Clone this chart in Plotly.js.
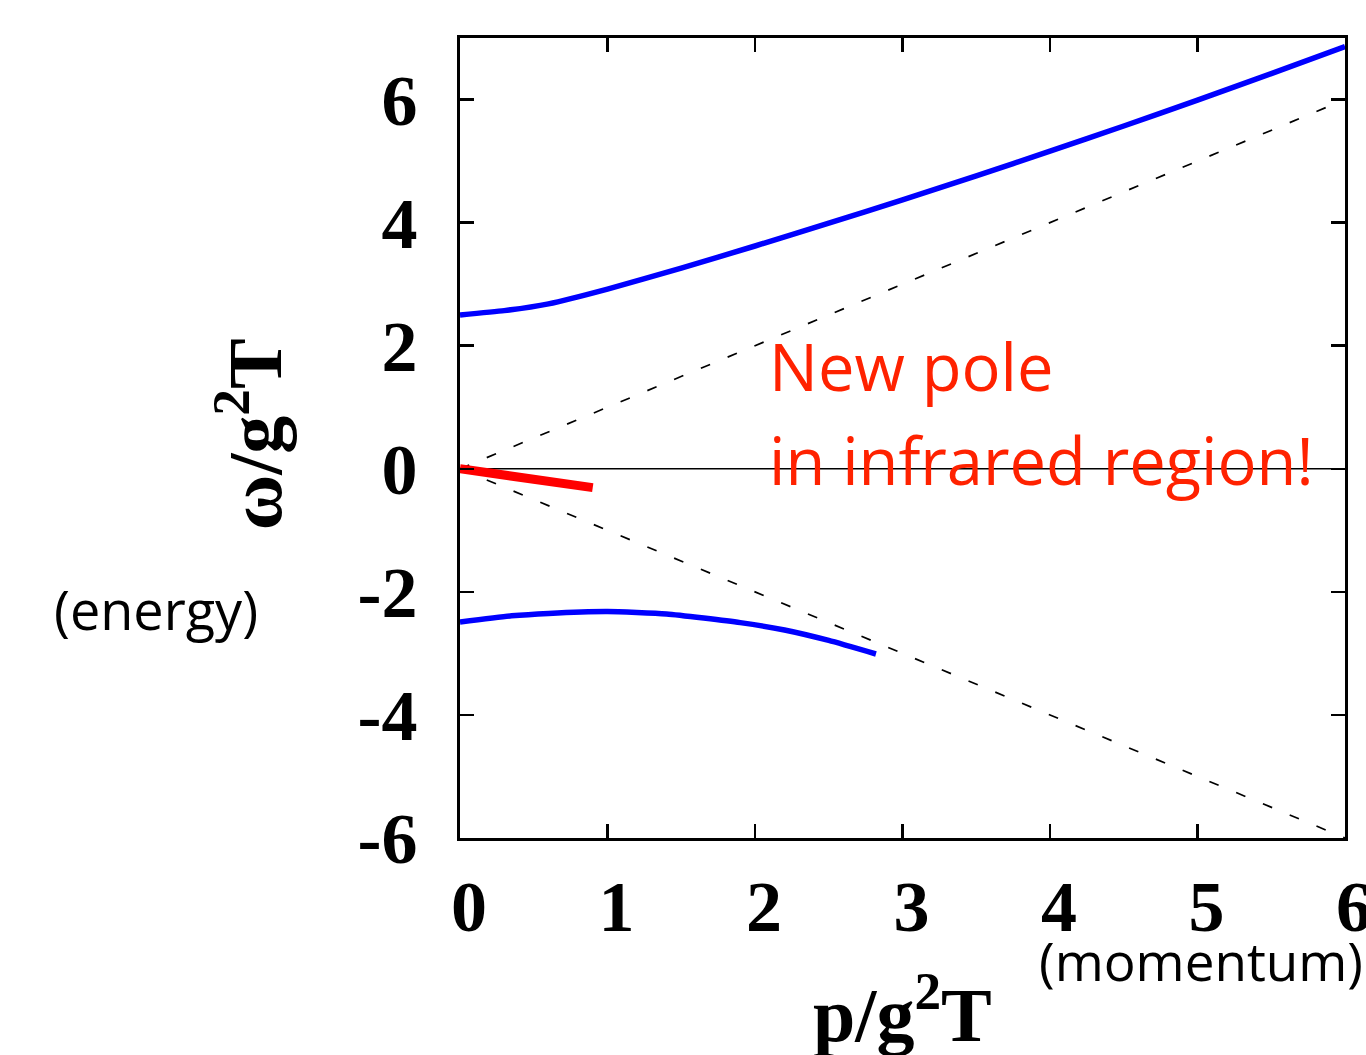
<!DOCTYPE html>
<html>
<head>
<meta charset="utf-8">
<script src="https://cdn.plot.ly/plotly-3.0.1.min.js"></script>
<style>html,body{margin:0;padding:0;background:#fff;}#chart{width:1366px;height:1055px;}</style>
</head>
<body>
<div id="chart"></div>
<script>
// Upper branch (blue)
const upperP = [0, 0.3, 0.6, 1, 1.5, 2, 2.5, 3, 3.5, 4, 4.5, 5, 5.5, 6];
const upperW = [2.5, 2.57, 2.68, 2.92, 3.26, 3.62, 3.99, 4.37, 4.76, 5.16, 5.57, 5.99, 6.42, 6.86];
// Lower branch (blue)
const lowerP = [0, 0.35, 0.6, 1.0, 1.4, 1.9, 2.2, 2.5, 2.82];
const lowerW = [-2.49, -2.39, -2.35, -2.32, -2.36, -2.5, -2.62, -2.79, -3.01];
// New pole (red)
const poleP = [0, 0.9];
const poleW = [0, -0.307];
// Light cone lines
const coneP = [0, 6];
const coneUp = [0, 6];
const coneDown = [0, -6];
// Zero line
const zeroP = [0, 6];
const zeroW = [0, 0];
// Ticks
const xTickVals = [0, 1, 2, 3, 4, 5, 6];
const xTickText = ['0', '1', '2', '3', '4', '5', '6'];
const yTickVals = [-6, -4, -2, 0, 2, 4, 6];
const yTickText = ['-6', '-4', '-2', '0', '2', '4', '6'];

const traces = [
  {x: zeroP, y: zeroW, mode: 'lines', line: {color: '#000', width: 1.6}},
  {x: coneP, y: coneUp, mode: 'lines', line: {color: '#000', width: 1.7, dash: '10px,19px'}},
  {x: coneP, y: coneDown, mode: 'lines', line: {color: '#000', width: 1.7, dash: '10px,19px'}},
  {x: upperP, y: upperW, mode: 'lines', line: {color: '#0000ff', width: 5.5, shape: 'spline', smoothing: 0.5}},
  {x: lowerP, y: lowerW, mode: 'lines', line: {color: '#0000ff', width: 5.5, shape: 'spline', smoothing: 0.5}},
  {x: poleP, y: poleW, mode: 'lines', line: {color: '#ff0000', width: 9}}
];

const serif = {family: 'Liberation Serif, Times New Roman, serif', size: 72, color: '#000', weight: 700};
const sans = {family: 'Open Sans, Noto Sans, sans-serif', color: '#000'};

const layout = {
  width: 1366, height: 1055,
  margin: {l: 460, r: 21, t: 38, b: 217},
  paper_bgcolor: '#fff', plot_bgcolor: '#fff',
  showlegend: false,
  xaxis: {
    range: [0, 6], tickmode: 'array', tickvals: xTickVals, ticktext: xTickText,
    ticks: 'inside', ticklen: 14, tickwidth: 2.5, tickcolor: '#000',
    showline: true, linecolor: '#000', linewidth: 3, mirror: 'ticks',
    showgrid: false, zeroline: false, ticklabeloverflow: 'allow',
    tickfont: serif, ticklabelstandoff: 4, ticklabelshift: 9
  },
  yaxis: {
    range: [-6, 7], tickmode: 'array', tickvals: yTickVals, ticktext: yTickText,
    ticks: 'inside', ticklen: 14, tickwidth: 2.5, tickcolor: '#000',
    showline: true, linecolor: '#000', linewidth: 3, mirror: 'ticks',
    showgrid: false, zeroline: false, ticklabeloverflow: 'allow',
    tickfont: serif, ticklabelstandoff: 25
  },
  annotations: [
    {text: 'New pole', x: 2.08, y: 1.67, xref: 'x', yref: 'y', xanchor: 'left', yanchor: 'middle', showarrow: false,
     font: {family: 'Open Sans, Noto Sans, sans-serif', size: 65, color: '#ff2200'}},
    {text: 'in infrared region!', x: 2.08, y: 0.14, xref: 'x', yref: 'y', xanchor: 'left', yanchor: 'middle', showarrow: false,
     font: {family: 'Open Sans, Noto Sans, sans-serif', size: 65, color: '#ff2200'}},
    {text: '(energy)', x: -0.4610, y: 0.286, xref: 'paper', yref: 'paper', xanchor: 'left', yanchor: 'middle', showarrow: false,
     font: Object.assign({}, sans, {size: 54})},
    {text: '(momentum)', x: 0.6520, y: -0.1525, xref: 'paper', yref: 'paper', xanchor: 'left', yanchor: 'middle', showarrow: false,
     font: Object.assign({}, sans, {size: 53})},
    {text: 'p/g<sup>2</sup>T', x: 0.5, y: -0.214, xref: 'paper', yref: 'paper', xanchor: 'center', yanchor: 'middle', showarrow: false,
     font: Object.assign({}, serif, {size: 76})},
    {text: 'ω/g<sup>2</sup>T', x: -0.2380, y: 0.505, xref: 'paper', yref: 'paper', xanchor: 'center', yanchor: 'middle', showarrow: false,
     textangle: -90, font: Object.assign({}, serif, {size: 76})}
  ]
};

Plotly.newPlot('chart', traces, layout, {displayModeBar: false, staticPlot: true});
</script>
</body>
</html>
